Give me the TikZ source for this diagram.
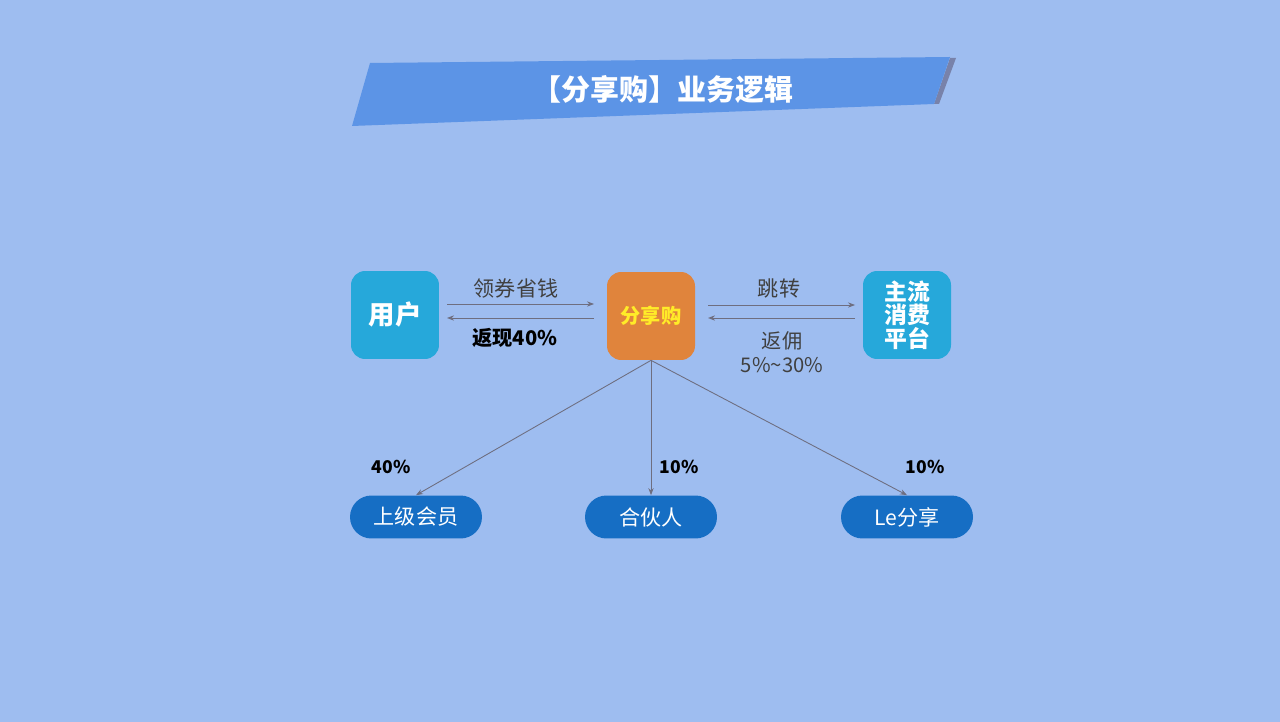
\documentclass[tikz,border=0pt]{standalone}
\usepackage{fontspec}
\usepackage{xcolor}
\usepackage{tikz}
\setmainfont{Noto Sans CJK SC}
\newfontfamily\cjk{Noto Sans CJK SC}
\definecolor{pageBlue}{RGB}{158, 189, 240}
\definecolor{bannerBlue}{RGB}{92, 148, 230}
\definecolor{bannerEdge}{RGB}{120, 130, 170}
\definecolor{boxCyan}{RGB}{38, 168, 218}
\definecolor{boxOrange}{RGB}{224, 132, 60}
\definecolor{pillBlue}{RGB}{22, 110, 196}
\definecolor{flowGray}{RGB}{110, 110, 128}
\definecolor{shareYellow}{RGB}{255, 236, 40}
\usetikzlibrary{shapes.geometric, arrows.meta, positioning, calc}

\tikzset{
    square/.style={
        rectangle,
        rounded corners=8pt,
        minimum width=1.76cm,
        minimum height=1.76cm,
        align=center,
        font=\cjk\bfseries
    },
    pill/.style={
        rectangle,
        rounded corners=12.2pt,
        fill=pillBlue,
        minimum width=2.64cm,
        minimum height=0.86cm,
        text=white,
        font=\cjk\fontsize{12}{14}\selectfont
    },
    flow/.style={
        draw=flowGray,
        line width=0.5pt,
        -{Stealth[length=4pt, width=3pt]}
    },
    tag/.style={
        font=\cjk\fontsize{12}{14}\selectfont,
        text=black!75
    },
    share/.style={
        font=\cjk\bfseries\fontsize{10}{12}\selectfont,
        text=black
    }
}

\begin{document}
\begin{tikzpicture}[x=0.02cm, y=-0.02cm]
    \fill[pageBlue] (0,0) rectangle (1280,722);
    \useasboundingbox (0,0) rectangle (1280,722);

    \fill[bannerEdge] (950,58) -- (956,58) -- (939,104) -- (934,104) -- cycle;
    \fill[bannerBlue] (370,63) -- (950,57) -- (934,104) -- (352,126) -- cycle;
    \node[
        text=white,
        font=\cjk\bfseries\fontsize{16.5}{20}\selectfont
    ] (title) at (663,90) {【分享购】业务逻辑};

    \node[square, fill=boxCyan, text=white, font=\cjk\bfseries\fontsize{15}{17}\selectfont] (user) at (395,315) {用户};
    \node[square, fill=boxOrange, text=shareYellow, font=\cjk\bfseries\fontsize{11.5}{14}\selectfont] (fxg) at (651,316) {分享购};
    \node[square, fill=boxCyan, text=white, font=\cjk\bfseries\fontsize{13}{13.5}\selectfont] (platform) at (907,315) {主流\\消费\\平台};

    \coordinate (u1) at (447,304);
    \coordinate (u2) at (594,304);
    \coordinate (u3) at (594,318);
    \coordinate (u4) at (447,318);
    \draw[flow] (u1) -- (u2);
    \draw[flow] (u3) -- (u4);
    \node[tag] (coupon) at (516,289) {领券省钱};
    \node[share, font=\cjk\bfseries\fontsize{11.5}{14}\selectfont] (cashback) at (515,338) {返现40\%};

    \coordinate (p1) at (708,305);
    \coordinate (p2) at (855,305);
    \coordinate (p3) at (855,318);
    \coordinate (p4) at (708,318);
    \draw[flow] (p1) -- (p2);
    \draw[flow] (p3) -- (p4);
    \node[tag] (jump) at (779,289) {跳转};
    \node[tag, align=center, font=\cjk\fontsize{11.5}{14}\selectfont] (commission) at (782,352) {返佣\\5\%\textasciitilde30\%};

    \node[pill] (upper) at (416,517) {上级会员};
    \node[pill] (partner) at (651,517) {合伙人};
    \node[pill] (leshare) at (907,517) {Le分享};

    \draw[flow] (fxg.south) -- (upper.north);
    \draw[flow] (fxg.south) -- (partner.north);
    \draw[flow] (fxg.south) -- (leshare.north);

    \node[share] (r1) at (391,467) {40\%};
    \node[share] (r2) at (679,467) {10\%};
    \node[share] (r3) at (925,467) {10\%};
\end{tikzpicture}
\end{document}
